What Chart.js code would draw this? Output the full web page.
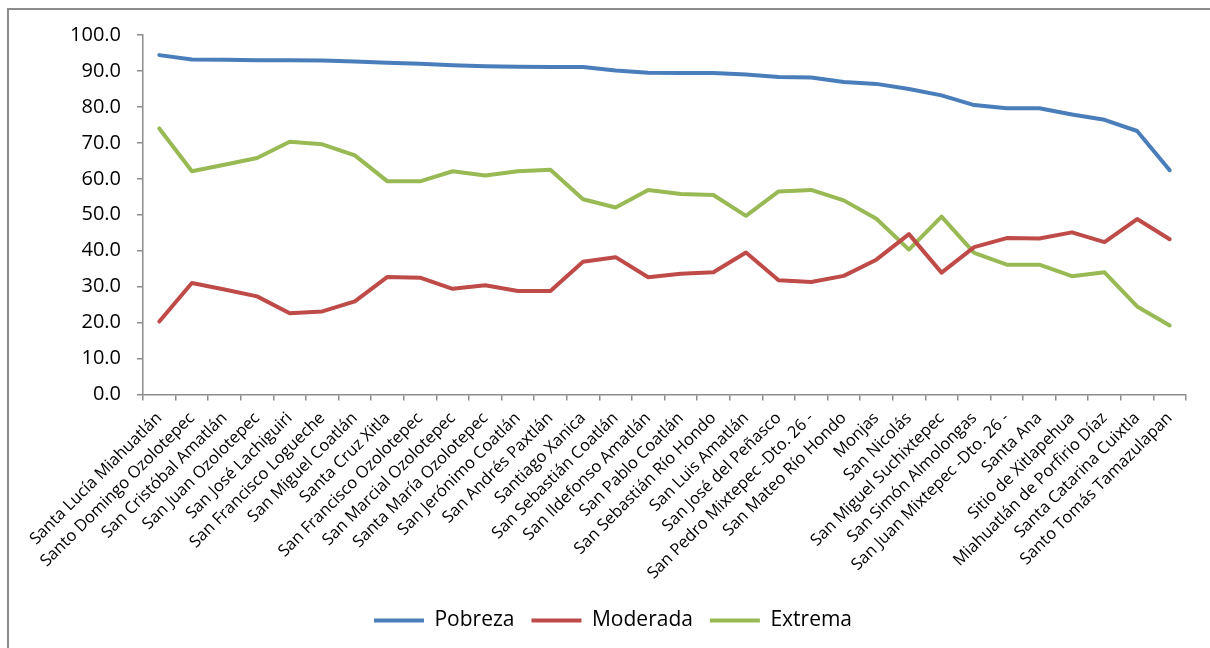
<!DOCTYPE html>
<html>
<head>
<meta charset="utf-8">
<script src="https://cdn.jsdelivr.net/npm/chart.js@4/dist/chart.umd.min.js"></script>
<style>
  html, body { margin: 0; padding: 0; background: #fff; }
  #wrap { position: relative; width: 1210px; height: 648px; overflow: hidden; }
  #frame { position: absolute; left: 7px; top: 8px; right: -10px; bottom: -10px;
           border-left: 2px solid #8c8c8c; border-top: 2px solid #8c8c8c; }
  canvas { position: absolute; left: 0; top: 0; }
</style>
</head>
<body>
<div id="wrap">
  <div id="frame"></div>
  <canvas id="c" width="1210" height="648"></canvas>
</div>
<script>
const categories = [
  "Santa Lucía Miahuatlán", "Santo Domingo Ozolotepec", "San Cristóbal Amatlán",
  "San Juan Ozolotepec", "San José Lachiguiri", "San Francisco Logueche",
  "San Miguel Coatlán", "Santa Cruz Xitla", "San Francisco Ozolotepec",
  "San Marcial Ozolotepec", "Santa María Ozolotepec", "San Jerónimo Coatlán",
  "San Andrés Paxtlán", "Santiago Xanica", "San Sebastián Coatlán",
  "San Ildefonso Amatlán", "San Pablo Coatlán", "San Sebastián Río Hondo",
  "San Luis Amatlán", "San José del Peñasco", "San Pedro Mixtepec -Dto. 26 -",
  "San Mateo Río Hondo", "Monjas", "San Nicolás", "San Miguel Suchixtepec",
  "San Simón Almolongas", "San Juan Mixtepec -Dto. 26 -", "Santa Ana",
  "Sitio de Xitlapehua", "Miahuatlán de Porfirio Díaz", "Santa Catarina Cuixtla",
  "Santo Tomás Tamazulapan"
];
const pobreza = [94.4, 93.2, 93.1, 93.0, 93.0, 92.9, 92.6, 92.3, 92.0, 91.6, 91.3, 91.2, 91.1, 91.1, 90.1, 89.5,
                 89.4, 89.4, 89.0, 88.3, 88.2, 86.9, 86.4, 85.0, 83.2, 80.5, 79.6, 79.6, 77.9, 76.4, 73.3, 62.4];
const moderada = [20.3, 31.0, 29.2, 27.3, 22.6, 23.1, 25.9, 32.7, 32.5, 29.4, 30.4, 28.8, 28.8, 36.9, 38.2, 32.6,
                  33.6, 34.0, 39.5, 31.8, 31.3, 33.0, 37.5, 44.6, 33.9, 41.0, 43.5, 43.4, 45.1, 42.4, 48.8, 43.2];
const extrema = [74.0, 62.1, 63.9, 65.8, 70.3, 69.6, 66.5, 59.3, 59.3, 62.1, 60.9, 62.1, 62.5, 54.3, 52.0, 56.9,
                 55.8, 55.5, 49.7, 56.5, 56.9, 54.0, 48.9, 40.3, 49.5, 39.4, 36.1, 36.1, 32.9, 34.0, 24.5, 19.2];
const seriesNames = ["Pobreza", "Moderada", "Extrema"];
const yTicks = { min: 0, max: 100, step: 10 };

const colors = ["#4A7EBB", "#BE4B48", "#98B954"];
const font = "'Open Sans', 'Liberation Sans', sans-serif";
const axisColor = "#8c8c8c";

function ds(label, data, color) {
  return {
    label, data,
    borderColor: color, backgroundColor: color,
    borderWidth: 4, pointRadius: 0, pointHoverRadius: 0,
    tension: 0, borderCapStyle: 'round', borderJoinStyle: 'round', fill: false
  };
}

new Chart(document.getElementById('c'), {
  type: 'line',
  data: {
    labels: categories,
    datasets: [
      ds(seriesNames[0], pobreza, colors[0]),
      ds(seriesNames[1], moderada, colors[1]),
      ds(seriesNames[2], extrema, colors[2])
    ]
  },
  options: {
    responsive: false,
    animation: false,
    devicePixelRatio: 1,
    layout: { padding: { left: 40, right: 24, top: 35, bottom: 7 } },
    plugins: {
      tooltip: { enabled: false },
      legend: {
        position: 'bottom',
        labels: {
          usePointStyle: true,
          pointStyle: 'line',
          pointStyleWidth: 50,
          boxHeight: 21,
          padding: 17,
          color: '#000',
          font: { family: font, size: 21 }
        }
      }
    },
    scales: {
      x: {
        offset: true,
        grid: { offset: true, drawOnChartArea: false, drawTicks: true, tickLength: 6, color: axisColor, lineWidth: 1.5 },
        border: { display: true, color: axisColor, width: 1.5 },
        ticks: { autoSkip: false, maxRotation: 45, minRotation: 45, padding: 8, color: '#000',
                 font: { family: font, size: 16.5 } },
        afterFit: (s) => { s.height = 198.5; }
      },
      y: {
        min: yTicks.min, max: yTicks.max,
        grid: { drawOnChartArea: false, drawTicks: true, tickLength: 6, color: axisColor, lineWidth: 1.5 },
        border: { display: true, color: axisColor, width: 1.5 },
        ticks: { stepSize: yTicks.step, padding: 16, color: '#000',
                 font: { family: font, size: 20 },
                 callback: (v) => Number(v).toFixed(1) },
        afterFit: (s) => { s.width = 103; }
      }
    }
  }
});
</script>
</body>
</html>
